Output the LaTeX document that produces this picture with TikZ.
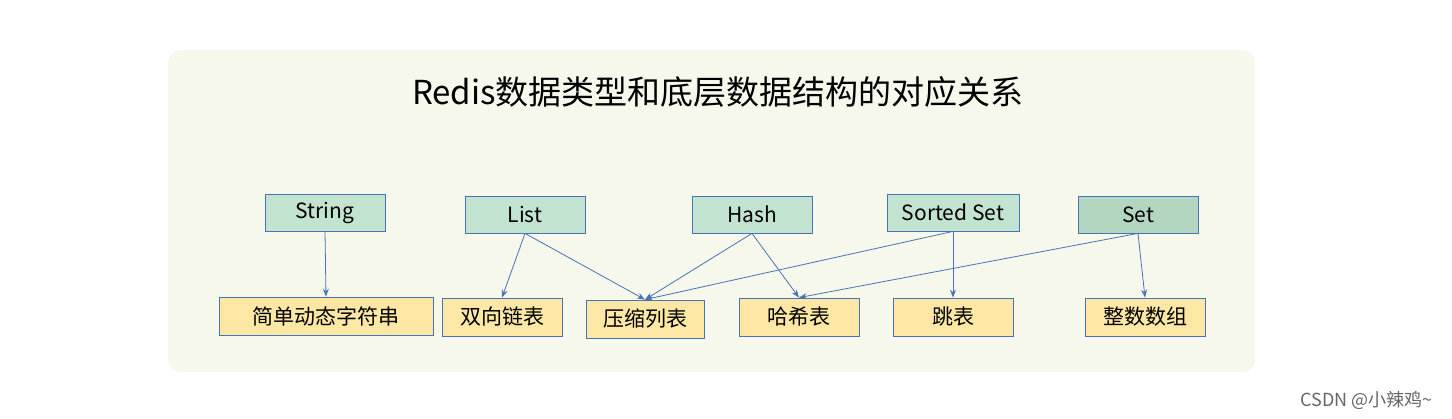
\documentclass[tikz,border=0pt]{standalone}
\usepackage{fontspec}
\setmainfont{Noto Sans CJK SC}
\usetikzlibrary{arrows.meta}
\definecolor{bg}{HTML}{F6F8EC}
\definecolor{gr}{HTML}{C2E3D0}
\definecolor{gr2}{HTML}{B2D6C0}
\definecolor{yl}{HTML}{FCE8A4}
\definecolor{ln}{HTML}{4A72B8}
\begin{document}
\begin{tikzpicture}[x=0.5pt,y=-0.5pt,
  top/.style={draw=ln,fill=gr,minimum width=60pt,minimum height=18.5pt,inner sep=0pt,font=\fontsize{10.5}{12}\selectfont},
  bot/.style={draw=ln,fill=yl,minimum width=60pt,minimum height=19pt,inner sep=0pt,font=\fontsize{10.5}{12}\selectfont},
  arr/.style={draw=ln,line width=0.4pt,-{Stealth[length=4pt,width=3pt]}}]
\useasboundingbox (0,0) rectangle (1452,418);
\fill[bg,rounded corners=6pt] (168,50) rectangle (1255,372);
\node (title) at (718,92) {\fontsize{16.5}{20}\selectfont Redis数据类型和底层数据结构的对应关系};
\node[top] (s) at (325,212.5) {String};
\node[top] (l) at (525,214.5) {List};
\node[top] (h) at (752,214.5) {Hash};
\node[top,minimum width=66pt] (z) at (953,212.5) {Sorted Set};
\node[top,fill=gr2] (st) at (1138,214.5) {Set};
\node[bot,minimum width=107pt] (sds) at (326,316) {简单动态字符串};
\node[bot] (dl) at (502,317) {双向链表};
\node[bot,minimum width=59pt] (zl) at (645,319) {压缩列表};
\node[bot] (ht) at (799,317) {哈希表};
\node[bot] (sk) at (953,317) {跳表};
\node[bot] (ia) at (1145,317) {整数数组};
\draw[arr] (s.south) -- (sds.north);
\draw[arr] (l.south) -- (dl.north);
\draw[arr] (l.south) -- (zl.north);
\draw[arr] (h.south) -- (zl.north);
\draw[arr] (h.south) -- (ht.north);
\draw[arr] (z.south) -- (zl.north);
\draw[arr] (z.south) -- (sk.north);
\draw[arr] (st.south) -- (ht.north);
\draw[arr] (st.south) -- (ia.north);
\node[anchor=east,text=gray!80!black] (wm) at (1440,400) {\fontsize{9}{10}\selectfont CSDN @小辣鸡\textasciitilde};
\end{tikzpicture}
\end{document}
